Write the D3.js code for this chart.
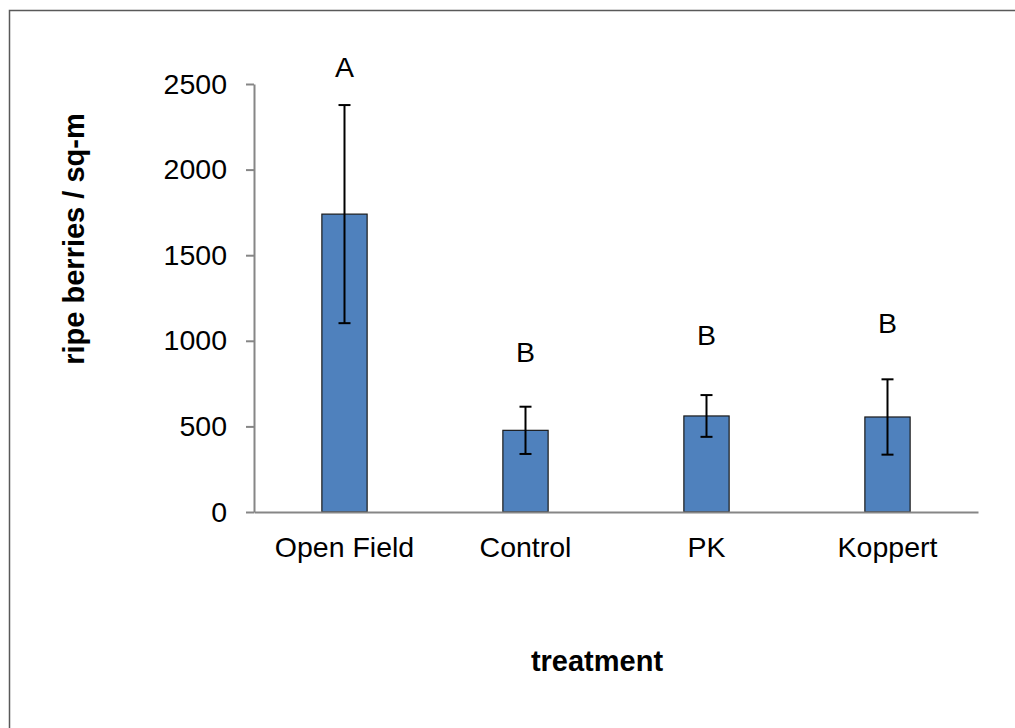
<!DOCTYPE html>
<html>
<head>
<meta charset="utf-8">
<script src="https://cdn.jsdelivr.net/npm/d3@7"></script>
<style>
  body { margin: 0; background: #fff; }
  svg { display: block; font-family: "Liberation Sans", Arial, sans-serif; }
</style>
</head>
<body>
<div id="chart"></div>
<script>
// data
const categories = ["Open Field", "Control", "PK", "Koppert"];
const means = [1740, 477, 561, 555];
const errors = [637, 138, 122, 220];
const letters = ["A", "B", "B", "B"];
const letterAt = [2541, 876, 975, 1045]; // where the letter baseline sits, in y units
const yTicks = [0, 500, 1000, 1500, 2000, 2500];

function drawChart() {
    const W = 1015, H = 728;
    const plot = { left: 254, right: 978, top: 84, bottom: 512 };

    const svg = d3.select("#chart").append("svg")
        .attr("width", W)
        .attr("height", H);

    // outer chart border (right / bottom edges fall off the picture)
    svg.append("rect")
        .attr("x", 9.5).attr("y", 10.5)
        .attr("width", W + 20).attr("height", H + 20)
        .attr("fill", "#fff")
        .attr("stroke", "#595959")
        .attr("stroke-width", 1.5);

    const x = d3.scaleBand()
        .domain(categories)
        .range([plot.left, plot.right])
        .padding(0);

    const y = d3.scaleLinear()
        .domain([0, 2500])
        .range([plot.bottom, plot.top]);

    const barW = x.bandwidth() * 0.25;

    // bars
    svg.selectAll(".bar")
        .data(categories)
        .enter()
        .append("rect")
        .attr("class", "bar")
        .attr("x", d => x(d) + x.bandwidth() / 2 - barW / 2)
        .attr("y", (d, i) => y(means[i]))
        .attr("width", barW)
        .attr("height", (d, i) => y(0) - y(means[i]))
        .attr("fill", "#4f81bd")
        .attr("stroke", "#1a1a1a")
        .attr("stroke-width", 1.2);

    // error bars
    const capW = 12;
    const err = svg.selectAll(".err")
        .data(categories)
        .enter()
        .append("g")
        .attr("class", "err")
        .attr("stroke", "#000")
        .attr("stroke-width", 2);

    err.append("line")
        .attr("x1", d => x(d) + x.bandwidth() / 2)
        .attr("x2", d => x(d) + x.bandwidth() / 2)
        .attr("y1", (d, i) => y(means[i] + errors[i]))
        .attr("y2", (d, i) => y(means[i] - errors[i]));
    err.append("line")
        .attr("x1", d => x(d) + x.bandwidth() / 2 - capW / 2)
        .attr("x2", d => x(d) + x.bandwidth() / 2 + capW / 2)
        .attr("y1", (d, i) => y(means[i] + errors[i]))
        .attr("y2", (d, i) => y(means[i] + errors[i]));
    err.append("line")
        .attr("x1", d => x(d) + x.bandwidth() / 2 - capW / 2)
        .attr("x2", d => x(d) + x.bandwidth() / 2 + capW / 2)
        .attr("y1", (d, i) => y(means[i] - errors[i]))
        .attr("y2", (d, i) => y(means[i] - errors[i]));

    // significance letters
    svg.selectAll(".letter")
        .data(categories)
        .enter()
        .append("text")
        .attr("class", "letter")
        .attr("x", d => x(d) + x.bandwidth() / 2)
        .attr("y", (d, i) => y(letterAt[i]))
        .attr("text-anchor", "middle")
        .attr("font-size", 28.5)
        .attr("fill", "#000")
        .text((d, i) => letters[i]);

    // y axis
    const yAxis = svg.append("g")
        .attr("transform", `translate(${plot.left},0)`)
        .call(d3.axisLeft(y).tickValues(yTicks).tickFormat(d3.format("d"))
            .tickSize(8).tickSizeOuter(0).tickPadding(19));
    yAxis.selectAll("path, line").attr("stroke", "#868686").attr("stroke-width", 2);
    yAxis.selectAll("text").attr("font-size", 28.5).attr("fill", "#000")
        .style("font-family", "'Liberation Sans', Arial, sans-serif");

    // x axis
    const xAxis = svg.append("g")
        .attr("transform", `translate(0,${plot.bottom})`)
        .call(d3.axisBottom(x).tickSize(0).tickSizeOuter(0).tickPadding(25));
    xAxis.selectAll("path").attr("stroke", "#868686").attr("stroke-width", 2);
    xAxis.selectAll("text").attr("font-size", 28.5).attr("fill", "#000")
        .style("font-family", "'Liberation Sans', Arial, sans-serif");

    // axis titles
    svg.append("text")
        .attr("transform", "translate(84,239) rotate(-90)")
        .attr("text-anchor", "middle")
        .attr("font-size", 29)
        .attr("font-weight", "bold")
        .text("ripe berries / sq-m");

    svg.append("text")
        .attr("x", 597)
        .attr("y", 671)
        .attr("text-anchor", "middle")
        .attr("font-size", 29)
        .attr("font-weight", "bold")
        .text("treatment");
}

window.onload = () => {
    drawChart();
};
</script>
</body>
</html>
